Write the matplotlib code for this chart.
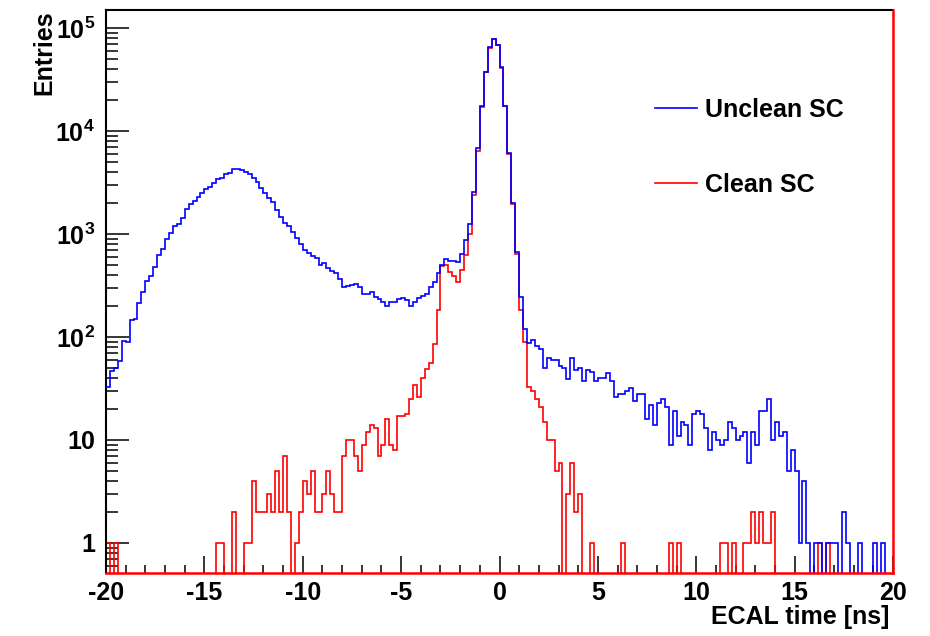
import numpy as np
import matplotlib
matplotlib.use("Agg")
import matplotlib.pyplot as plt
from matplotlib.ticker import FixedLocator, LogLocator, MultipleLocator, NullFormatter
from matplotlib.lines import Line2D

plt.rcParams['font.family'] = ['Liberation Sans', 'DejaVu Sans']
plt.rcParams['font.weight'] = 'bold'
plt.rcParams['mathtext.fontset'] = 'custom'
plt.rcParams['mathtext.rm'] = 'Liberation Sans:bold'
plt.rcParams['mathtext.bf'] = 'Liberation Sans:bold'
plt.rcParams['mathtext.default'] = 'rm'

# ---- data: 200 bins of 0.2 ns from -20 to 20 ----
bin_edges = np.linspace(-20, 20, 201)

unclean = [
    33, 47, 50, 58, 92, 90, 146, 150, 215, 274,
    350, 394, 475, 621, 720, 888, 1016, 1196, 1250, 1420,
    1760, 1955, 2105, 2270, 2480, 2735, 2880, 3105, 3440, 3520,
    3800, 3945, 4250, 4280, 4170, 3980, 3800, 3520, 3175, 2820,
    2500, 2250, 2060, 1710, 1470, 1290, 1196, 1052, 908, 800,
    700, 649, 611, 580, 500, 526, 464, 440, 415, 363,
    304, 310, 320, 325, 308, 261, 261, 275, 246, 232,
    220, 201, 220, 220, 232, 237, 228, 201, 220, 237,
    250, 261, 308, 340, 415, 505, 573, 552, 547, 530,
    640, 875, 1245, 2580, 6780, 17600, 37700, 65300, 79000, 68400,
    41700, 17600, 6070, 2020, 675, 245, 120, 88, 94, 82,
    76, 50, 62, 60, 60, 52, 50, 39, 62, 48,
    50, 37, 48, 46, 37, 40, 40, 45, 37, 26,
    28, 28, 30, 32, 24, 28, 28, 16, 22, 14,
    23, 25, 21, 9, 19, 11, 15, 14, 9, 18,
    19, 18, 13, 8, 12, 10, 9, 10, 15, 13,
    10, 11, 12, 6, 12, 9, 19, 19, 25, 10,
    15, 11, 12, 5, 8, 5, 1, 4, 1, 0,
    1, 1, 0, 1, 1, 1, 0, 2, 1, 0,
    0, 1, 0, 0, 0, 1, 0, 1, 0, 0,
]

clean = [
    1, 0, 1, 0, 0, 0, 0, 0, 0, 0,
    0, 0, 0, 0, 0, 0, 0, 0, 0, 0,
    0, 0, 0, 0, 0, 0, 0, 0, 1, 1,
    0, 0, 2, 0, 0, 1, 1, 4, 2, 2,
    2, 3, 2, 5, 2, 7, 2, 0, 1, 2,
    4, 3, 5, 2, 2, 3, 5, 3, 2, 2,
    7, 10, 10, 7, 5, 9, 12, 14, 13, 7,
    9, 16, 9, 8, 17, 17, 18, 25, 34, 26,
    40, 49, 56, 85, 185, 490, 495, 426, 394, 342,
    443, 630, 1010, 2390, 6370, 17300, 37200, 64800, 78500, 67900,
    41400, 17400, 5950, 1960, 640, 185, 90, 33, 30, 25,
    21, 15, 10, 10, 5, 6, 0, 3, 6, 2,
    3, 0, 0, 1, 0, 0, 0, 0, 0, 0,
    0, 1, 0, 0, 0, 0, 0, 0, 0, 0,
    0, 0, 0, 1, 0, 1, 0, 0, 0, 0,
    0, 0, 0, 0, 0, 0, 1, 1, 0, 1,
    0, 0, 1, 1, 2, 1, 2, 1, 1, 2,
    0, 0, 0, 0, 0, 0, 0, 0, 0, 0,
    0, 1, 0, 1, 0, 0, 0, 0, 0, 0,
    0, 0, 0, 0, 0, 0, 0, 0, 0, 0,
]

y_major = [1, 10, 1e2, 1e3, 1e4, 1e5]
y_labels = ['1', '10', r'$10^{2}$', r'$10^{3}$', r'$10^{4}$', r'$10^{5}$']
x_major = [-20, -15, -10, -5, 0, 5, 10, 15, 20]
x_labels = ['-20', '-15', '-10', '-5', '0', '5', '10', '15', '20']

YMIN, YMAX = 0.511, 1.5e5

fig = plt.figure(figsize=(9.30, 6.36), dpi=100)
ax = fig.add_axes([0.114, 0.0991, 0.8462, 0.8852])
ax.set_yscale('log')

def floor0(v):
    v = np.asarray(v, dtype=float)
    return np.where(v > 0, v, 1e-3)

ax.stairs(floor0(clean), bin_edges, baseline=None, color='#ff0000', lw=1.2, zorder=2)
ax.stairs(floor0(unclean), bin_edges, baseline=None, color='#0000ff', lw=1.2, zorder=3)

ax.set_xlim(-20, 20)
ax.set_ylim(YMIN, YMAX)

ax.xaxis.set_major_locator(FixedLocator(x_major))
ax.set_xticklabels(x_labels)
ax.xaxis.set_minor_locator(MultipleLocator(1))
ax.yaxis.set_major_locator(FixedLocator(y_major))
ax.set_yticklabels(y_labels)
ax.yaxis.set_minor_locator(LogLocator(base=10, subs=np.arange(2, 10)))
ax.yaxis.set_minor_formatter(NullFormatter())

ax.tick_params(axis='both', which='both', direction='in', width=1.1, colors='black',
               top=False, right=False, labelsize=18)
ax.tick_params(axis='x', which='major', length=12, pad=6)
ax.tick_params(axis='x', which='minor', length=6)
ax.tick_params(axis='y', which='major', length=16.5, pad=8)
ax.tick_params(axis='y', which='minor', length=8.5)
for lab in ax.get_xticklabels() + ax.get_yticklabels():
    lab.set_fontweight('bold')

for s in ['top', 'left']:
    ax.spines[s].set_linewidth(1.5)
    ax.spines[s].set_color('black')
for s in ['bottom', 'right']:
    ax.spines[s].set_linewidth(1.8)
    ax.spines[s].set_color('#ff0000')
    ax.spines[s].set_zorder(4)

# legend
ax.add_line(Line2D([0.6976, 0.751], [0.826, 0.826], transform=ax.transAxes,
                   color='#0000ff', lw=1.2))
ax.add_line(Line2D([0.6976, 0.751], [0.6927, 0.6927], transform=ax.transAxes,
                   color='#ff0000', lw=1.2))
ax.text(0.761, 0.823, 'Unclean SC', transform=ax.transAxes, fontsize=18,
        fontweight='bold', va='center', ha='left')
ax.text(0.761, 0.689, 'Clean SC', transform=ax.transAxes, fontsize=18,
        fontweight='bold', va='center', ha='left')

fig.text(0.956, 0.030, 'ECAL time [ns]', fontsize=18, fontweight='bold',
         ha='right', va='center')
fig.text(0.048, 0.984, 'Entries', fontsize=18, fontweight='bold',
         ha='center', va='top', rotation=90)

fig.savefig('out.png', dpi=100)
